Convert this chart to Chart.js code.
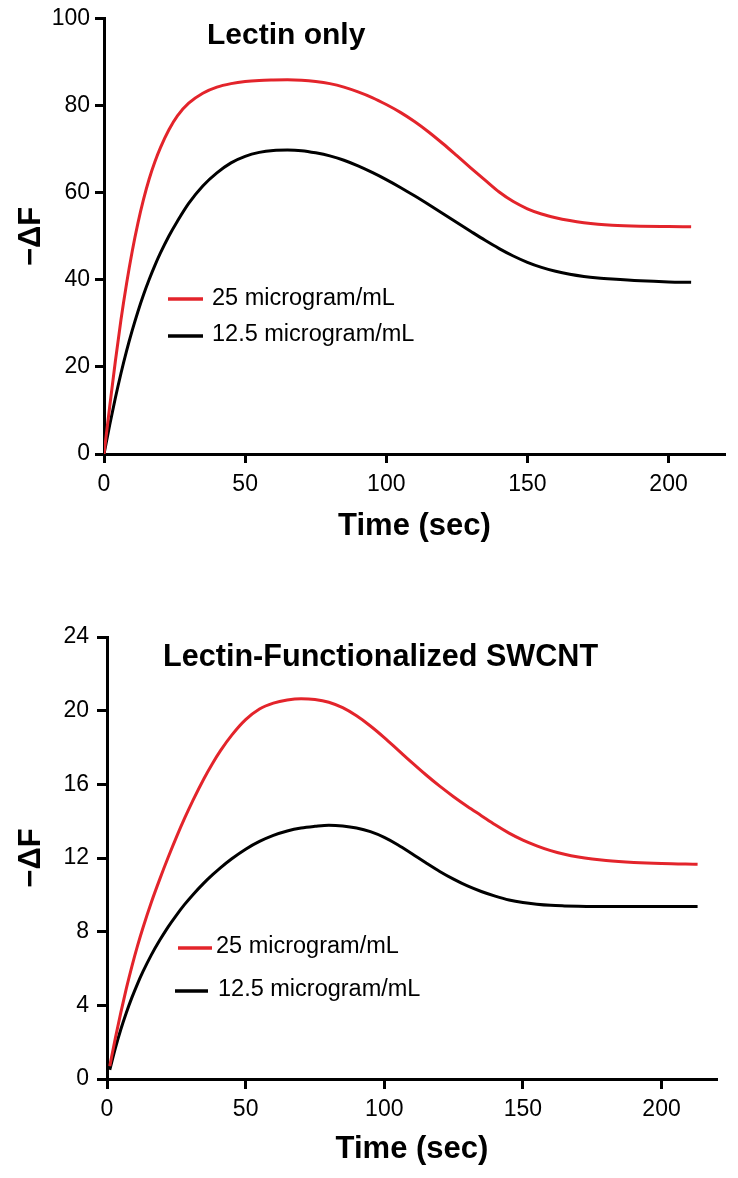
<!DOCTYPE html>
<html><head><meta charset="utf-8">
<script src="https://cdn.jsdelivr.net/npm/chart.js@4/dist/chart.umd.min.js"></script>
<style>
html,body{margin:0;padding:0;background:#fff;}
canvas{position:absolute;left:0;}
#c1{top:0;} #c2{top:560px;}
</style></head><body>
<canvas id="c1" width="738" height="560"></canvas>
<canvas id="c2" width="738" height="618"></canvas>
<script>
// ---- data ----
const seriesLabels = ['25 microgram/mL', '12.5 microgram/mL'];
const chartTitles = ['Lectin only', 'Lectin-Functionalized SWCNT'];
const xTickValues = [0, 50, 100, 150, 200];
const topYTicks = [0, 20, 40, 60, 80, 100];
const botYTicks = [0, 4, 8, 12, 16, 20, 24];

const topTime  = [0, 2, 4, 6, 8, 10, 12, 14, 16, 18, 20, 23, 26, 30, 35, 40, 45, 50, 55, 60, 65, 70, 75, 80, 85, 90, 95, 100, 105, 110, 115, 120, 125, 130, 135, 140, 145, 150, 155, 160, 165, 170, 175, 180, 190, 200, 208];
const topRed   = [0, 10.8, 21.2, 30.8, 39.2, 46.6, 53, 58.5, 63.2, 67.1, 70.4, 74.5, 77.7, 80.6, 82.9, 84.3, 85.1, 85.6, 85.85, 85.95, 86, 85.9, 85.6, 85.1, 84.3, 83.2, 81.9, 80.3, 78.5, 76.4, 74.0, 71.35, 68.55, 65.7, 62.93, 60.2, 58.0, 56.35, 55.15, 54.3, 53.65, 53.15, 52.8, 52.58, 52.36, 52.26, 52.2];
const topBlack = [0, 6.6, 12.8, 18.5, 23.7, 28.4, 32.7, 36.6, 40.1, 43.3, 46.2, 50.1, 53.5, 57.6, 61.6, 64.6, 66.9, 68.4, 69.3, 69.75, 69.85, 69.7, 69.2, 68.5, 67.5, 66.2, 64.7, 63.05, 61.25, 59.33, 57.33, 55.28, 53.2, 51.13, 49.1, 47.2, 45.5, 44.05, 42.88, 41.98, 41.3, 40.8, 40.45, 40.2, 39.8, 39.55, 39.45];

const botTime  = [1, 3, 5, 7, 9, 11, 13, 16, 19, 22, 25, 28, 31, 35, 38, 41, 45, 50, 55, 60, 65, 70, 75, 80, 85, 90, 95, 100, 105, 110, 115, 120, 125, 130, 135, 140, 145, 150, 155, 160, 165, 170, 175, 180, 190, 200, 213];
const botRed   = [0.7, 2.21, 3.62, 4.93, 6.13, 7.23, 8.23, 9.6, 10.84, 12.01, 13.12, 14.16, 15.13, 16.32, 17.12, 17.84, 18.67, 19.51, 20.09, 20.41, 20.58, 20.65, 20.61, 20.46, 20.16, 19.72, 19.17, 18.54, 17.86, 17.18, 16.52, 15.9, 15.33, 14.8, 14.3, 13.8, 13.35, 12.97, 12.66, 12.4, 12.2, 12.05, 11.94, 11.86, 11.76, 11.7, 11.66];
const botBlack = [0.5, 1.67, 2.7, 3.61, 4.43, 5.17, 5.84, 6.74, 7.53, 8.25, 8.89, 9.48, 10.01, 10.65, 11.08, 11.48, 11.96, 12.48, 12.9, 13.23, 13.47, 13.63, 13.72, 13.78, 13.74, 13.63, 13.43, 13.12, 12.71, 12.23, 11.74, 11.27, 10.85, 10.48, 10.18, 9.93, 9.72, 9.58, 9.49, 9.43, 9.4, 9.38, 9.37, 9.37, 9.36, 9.36, 9.36];

// ---- styling ----
const FAMILY = '"Liberation Sans", Arial, Helvetica, sans-serif';
const RED = '#e3242b';
const BLACK = '#000000';

const overlay = {
  id: 'overlay',
  afterDraw(chart, args, opts) {
    const ctx = chart.ctx;
    ctx.save();
    ctx.fillStyle = '#000';
    ctx.textBaseline = 'middle';
    ctx.textAlign = 'left';
    ctx.font = 'bold ' + opts.titleSize + 'px ' + FAMILY;
    ctx.fillText(opts.title, opts.titleX, opts.titleY);
    ctx.font = '23.5px ' + FAMILY;
    chart.data.datasets.forEach((ds, i) => {
      const it = opts.legend[i];
      ctx.strokeStyle = ds.borderColor;
      ctx.lineWidth = 3.5;
      ctx.beginPath();
      ctx.moveTo(it.x1, it.y);
      ctx.lineTo(it.x2, it.y);
      ctx.stroke();
      ctx.fillStyle = '#000';
      ctx.fillText(ds.label, it.tx, it.ty);
    });
    ctx.restore();
  }
};

function toXY(xs, ys) { return xs.map((x, i) => ({ x: x, y: ys[i] })); }

function makeChart(id, p) {
  return new Chart(document.getElementById(id), {
    type: 'line',
    data: {
      datasets: [
        { label: seriesLabels[0], data: toXY(p.time, p.red), borderColor: RED, borderWidth: 3, pointRadius: 0, cubicInterpolationMode: 'monotone', fill: false },
        { label: seriesLabels[1], data: toXY(p.time, p.black), borderColor: BLACK, borderWidth: 3, pointRadius: 0, cubicInterpolationMode: 'monotone', fill: false }
      ]
    },
    plugins: [overlay],
    options: {
      responsive: false,
      animation: false,
      events: [],
      layout: { padding: { left: 0, top: p.padTop, right: p.padRight, bottom: 0 } },
      plugins: {
        legend: { display: false },
        tooltip: { enabled: false },
        overlay: p.overlay
      },
      scales: {
        x: {
          type: 'linear', min: 0, max: 220,
          afterBuildTicks: s => { s.ticks = xTickValues.map(v => ({ value: v })); },
          afterFit: s => { s.height = p.xHeight; },
          ticks: { font: { family: FAMILY, size: 23 }, color: '#000', padding: p.xTickPad, maxRotation: 0, autoSkip: false },
          grid: { drawOnChartArea: false, drawTicks: true, tickLength: p.xTickLen, tickWidth: 3, tickColor: '#000' },
          border: { display: true, color: '#000', width: 3 },
          title: { display: true, text: 'Time (sec)', color: '#000', font: { family: FAMILY, size: 31, weight: 'bold' }, padding: { top: 0, bottom: p.xTitlePad } }
        },
        y: {
          type: 'linear', min: 0, max: p.yMax,
          afterBuildTicks: s => { s.ticks = p.yTicks.map(v => ({ value: v })); },
          afterFit: s => { s.width = p.yWidth; },
          ticks: { font: { family: FAMILY, size: 23 }, color: '#000', padding: p.yTickPad, autoSkip: false },
          grid: { drawOnChartArea: false, drawTicks: true, tickLength: p.yTickLen, tickWidth: 3, tickColor: '#000' },
          border: { display: true, color: '#000', width: 3 },
          title: { display: true, text: '\u2212\u0394F', color: '#000', font: { family: FAMILY, size: 31, weight: 'bold' }, padding: { top: 13, bottom: 0 } }
        }
      }
    }
  });
}

makeChart('c1', {
  time: topTime, red: topRed, black: topBlack,
  yMax: 100, yTicks: topYTicks,
  padTop: 17, padRight: 13, xHeight: 106, yWidth: 104,
  xTickPad: 8, xTickLen: 9, yTickPad: 5, yTickLen: 9, xTitlePad: 15,
  overlay: {
    title: chartTitles[0], titleSize: 30, titleX: 207, titleY: 36,
    legend: [
      { x1: 168, x2: 203, y: 299, tx: 212, ty: 299 },
      { x1: 168, x2: 203, y: 336, tx: 212, ty: 335 }
    ]
  }
});

makeChart('c2', {
  time: botTime, red: botRed, black: botBlack,
  yMax: 24, yTicks: botYTicks,
  padTop: 77, padRight: 21, xHeight: 99, yWidth: 107,
  xTickPad: 7, xTickLen: 10, yTickPad: 8, yTickLen: 10, xTitlePad: 10,
  overlay: {
    title: chartTitles[1], titleSize: 30.6, titleX: 163, titleY: 98,
    legend: [
      { x1: 178, x2: 212, y: 388, tx: 216, ty: 387 },
      { x1: 175, x2: 208, y: 431, tx: 218, ty: 430 }
    ]
  }
});
</script>
</body></html>
